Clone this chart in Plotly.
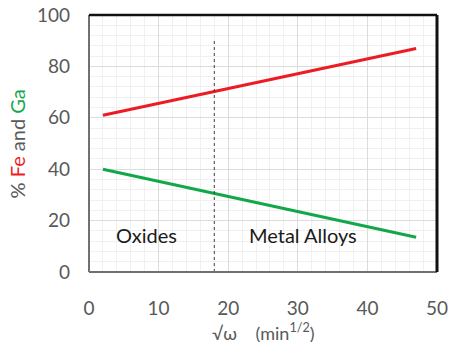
import plotly.graph_objects as go

# Data
x_fe = [2, 47]
y_fe = [61, 87]
x_ga = [2, 47]
y_ga = [40, 13.5]
x_boundary = [18, 18]
y_boundary = [0, 91]
x_ticks = [0, 10, 20, 30, 40, 50]
y_ticks = [0, 20, 40, 60, 80, 100]
region_labels = ["Oxides", "Metal Alloys"]
region_x = [8.3, 30.8]
region_y = [14.5, 14.5]

FONT = "Lato, Open Sans, sans-serif"
GRAY = "#595959"

fig = go.Figure()
fig.add_trace(go.Scatter(x=x_fe, y=y_fe, mode="lines",
                         line=dict(color="#ED1C24", width=3), showlegend=False))
fig.add_trace(go.Scatter(x=x_ga, y=y_ga, mode="lines",
                         line=dict(color="#12A84A", width=3), showlegend=False))
fig.add_trace(go.Scatter(x=x_boundary, y=y_boundary, mode="lines",
                         line=dict(color="#404040", width=1, dash="3px,3px"), showlegend=False))

for t, xx, yy in zip(region_labels, region_x, region_y):
    fig.add_annotation(x=xx, y=yy, text=t, showarrow=False,
                       font=dict(family=FONT, size=20, color="#1a1a1a"))

# Axis titles as annotations
fig.add_annotation(xref="paper", yref="paper", x=0.5, y=-0.288,
                   xanchor="center", yanchor="bottom", showarrow=False,
                   text="\u221a\u03c9\u00a0\u00a0\u00a0\u00a0(min<sup>1/2</sup>)",
                   font=dict(family=FONT, size=18, color=GRAY))
fig.add_annotation(xref="paper", yref="paper", x=-0.207, y=0.5,
                   xanchor="center", yanchor="middle", showarrow=False, textangle=-90,
                   text="% <span style='color:#ED1C24'>Fe</span> and <span style='color:#12A84A'>Ga</span>",
                   font=dict(family=FONT, size=20, color=GRAY))

# Plot frame
fig.add_shape(type="line", xref="paper", yref="paper", x0=0, x1=0, y0=0, y1=1,
              line=dict(color="#707070", width=2))
fig.add_shape(type="line", xref="paper", yref="paper", x0=0, x1=1, y0=0, y1=0,
              line=dict(color="#707070", width=2))
fig.add_shape(type="line", xref="paper", yref="paper", x0=0, x1=1, y0=1, y1=1,
              line=dict(color="#111111", width=2.5))
fig.add_shape(type="line", xref="paper", yref="paper", x0=1, x1=1, y0=0, y1=1,
              line=dict(color="#111111", width=3))

fig.update_layout(
    width=449, height=342,
    margin=dict(l=89, r=12, t=15, b=70),
    plot_bgcolor="white", paper_bgcolor="white",
    font=dict(family=FONT, size=19, color=GRAY),
    xaxis=dict(range=[0, 50], tickvals=x_ticks, ticktext=[str(v) for v in x_ticks],
               automargin=False,
               showgrid=True, gridcolor="#dcdcdc", gridwidth=1,
               minor=dict(dtick=2, showgrid=True, gridcolor="#f0f0f0", gridwidth=1),
               zeroline=False, showline=False, ticks="", ticklabelstandoff=23,
               tickfont=dict(size=19, color=GRAY)),
    yaxis=dict(range=[0, 100], tickvals=y_ticks, ticktext=[str(v) for v in y_ticks],
               automargin=False,
               showgrid=True, gridcolor="#dcdcdc", gridwidth=1,
               minor=dict(dtick=4, showgrid=True, gridcolor="#f0f0f0", gridwidth=1),
               zeroline=False, showline=False, ticks="", ticklabelstandoff=18,
               tickfont=dict(size=19, color=GRAY)),
)

fig.write_html("out.html")
